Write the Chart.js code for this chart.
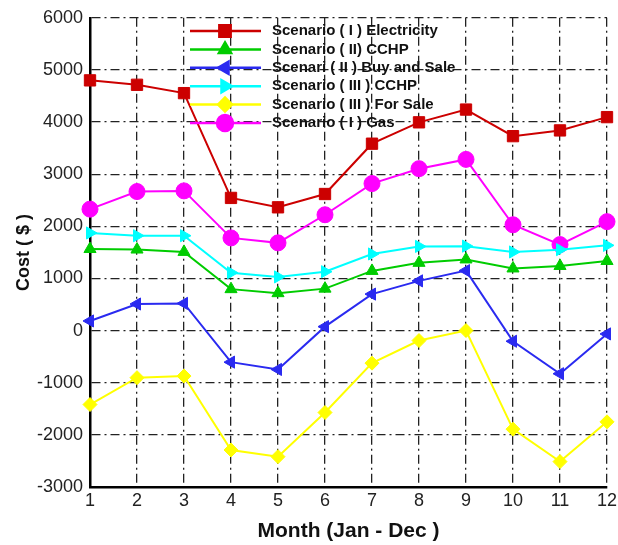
<!DOCTYPE html>
<html lang="en">
<head>
    <meta charset="UTF-8">
    <title>Monthly Cost by Scenario</title>
    <style>
        * { box-sizing: border-box; margin: 0; }
        body, html { background: #fff; }
        #main {
            width: 618px;
            height: 545px;
            position: relative;
        }
    </style>
</head>
<body>
    <div id="main">
        <canvas id="chartCanvasId"></canvas>
    </div>

    <script src="https://cdn.jsdelivr.net/npm/chart.js@4.4.0/dist/chart.umd.min.js"></script>
    <script>
        "use strict";

        const months        = ["1", "2", "3", "4", "5", "6", "7", "8", "9", "10", "11", "12"]
        const electricity   = [4800, 4715, 4555, 2545, 2365, 2620, 3585, 3995, 4240, 3730, 3840, 4095]
        const cchp2         = [1565, 1555, 1510, 795, 718, 805, 1145, 1300, 1365, 1192, 1240, 1335]
        const buySale       = [185, 510, 522, -605, -745, 76, 700, 954, 1150, -204, -827, -64]
        const cchp3         = [1873, 1820, 1820, 1110, 1030, 1130, 1470, 1615, 1620, 1508, 1553, 1635]
        const forSale       = [-1418, -903, -872, -2290, -2418, -1571, -624, -191, 0, -1890, -2513, -1750]
        const gas           = [2330, 2667, 2680, 1778, 1683, 2222, 2820, 3106, 3284, 2030, 1650, 2090]
        const yTicks        = [-3000, -2000, -1000, 0, 1000, 2000, 3000, 4000, 5000, 6000]

        const FONT = "'Liberation Sans', Arial, sans-serif"

        function series(label, data, color, style, radius, rotation) {
            return {
                label: label,
                data: data,
                borderColor: color,
                backgroundColor: color,
                borderWidth: 2,
                pointStyle: style,
                pointRadius: radius,
                pointHoverRadius: radius,
                pointRotation: rotation || 0,
                pointBorderWidth: 1,
                tension: 0
            }
        }

        // legend sits inside the plot, drawn on top of everything
        const insideLegend = {
            id: 'insideLegend',
            afterDatasetsDraw(chart) {
                const ctx = chart.ctx
                const x0 = 190, x1 = 261, xm = 225, xt = 272
                const y0 = 31, dy = 18.4
                ctx.save()
                chart.data.datasets.forEach((ds, i) => {
                    const y = y0 + i * dy
                    ctx.strokeStyle = ds.borderColor
                    ctx.lineWidth = 2.5
                    ctx.setLineDash([])
                    ctx.beginPath()
                    ctx.moveTo(x0, y)
                    ctx.lineTo(x1, y)
                    ctx.stroke()
                    ctx.fillStyle = ds.backgroundColor
                    Chart.helpers.drawPoint(ctx, {
                        pointStyle: ds.pointStyle,
                        rotation: ds.pointRotation,
                        radius: ds.pointRadius,
                        borderWidth: 1
                    }, xm, y)
                    ctx.fillStyle = '#111'
                    ctx.font = "bold 15px " + FONT
                    ctx.textBaseline = 'middle'
                    ctx.textAlign = 'left'
                    ctx.fillText(ds.label, xt, y)
                })
                ctx.restore()
            }
        }

        const chartCanvas  = document.getElementById('chartCanvasId')
        const chartContext = chartCanvas.getContext('2d')

        const myChart = new Chart(chartContext, {
            type: 'line',
            data: {
                labels: months,
                datasets: [
                    series('Scenario ( I ) Electricity', electricity, '#cc0000', 'rect', 8),
                    series('Scenario ( II) CCHP', cchp2, '#00cc00', 'triangle', 7),
                    series('Scenari ( II ) Buy and Sale', buySale, '#2a2af0', 'triangle', 7, -90),
                    series('Scenario ( III ) CCHP', cchp3, '#00ffff', 'triangle', 7, 90),
                    series('Scenario ( III ) For Sale', forSale, '#ffff00', 'rectRot', 7),
                    series('Scenario ( I ) Gas', gas, '#ff00ff', 'circle', 8)
                ]
            },
            options: {
                responsive: true,
                maintainAspectRatio: false,
                animation: false,
                layout: { padding: { top: 13, right: 11, left: 0, bottom: 0 } },
                plugins: {
                    legend: { display: false },
                    tooltip: { enabled: false }
                },
                scales: {
                    x: {
                        offset: false,
                        afterFit(scale) {
                            scale.height = 58
                            scale.paddingRight = 0
                            scale.paddingLeft = 0
                        },
                        grid: { color: '#222', lineWidth: 1.3, drawTicks: false },
                        border: { display: true, color: '#000', width: 2.5, dash: [9, 4, 2, 4] },
                        ticks: {
                            color: '#222',
                            padding: 3,
                            maxRotation: 0,
                            font: { family: FONT, size: 18 }
                        },
                        title: {
                            display: true,
                            text: 'Month (Jan - Dec )',
                            color: '#111',
                            padding: { top: 0, bottom: 1 },
                            font: { family: FONT, size: 21, weight: 'bold' }
                        }
                    },
                    y: {
                        min: -3000,
                        max: 6000,
                        afterFit(scale) { scale.width = 90 },
                        afterBuildTicks(scale) { scale.ticks = yTicks.map(v => ({ value: v })) },
                        grid: { color: '#222', lineWidth: 1.3, drawTicks: false },
                        border: { display: true, color: '#000', width: 2.5, dash: [9, 4, 2, 4] },
                        ticks: {
                            color: '#222',
                            padding: 7,
                            font: { family: FONT, size: 18 },
                            callback: v => String(v)
                        },
                        title: {
                            display: true,
                            text: 'Cost ( $ )',
                            color: '#111',
                            padding: { top: 13, bottom: 0 },
                            font: { family: FONT, size: 18, weight: 'bold' }
                        }
                    }
                }
            },
            plugins: [insideLegend]
        });
    </script>
</body>
</html>
